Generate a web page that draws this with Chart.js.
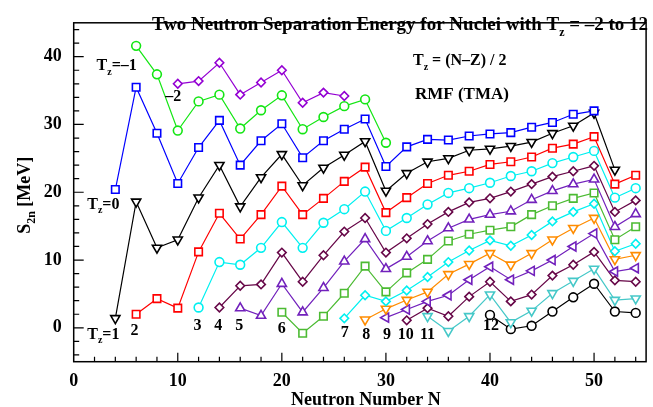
<!DOCTYPE html>
<html>
<head>
<meta charset="utf-8">
<script src="https://cdn.jsdelivr.net/npm/chart.js@4.4.1/dist/chart.umd.min.js"></script>
<style>
  html, body { margin: 0; padding: 0; background: #fff; }
  #wrap { width: 653px; height: 407px; }
</style>
</head>
<body>
<div id="wrap"><canvas id="s2n" width="653" height="407"></canvas></div>
<script>
// isospin projection of each chain and the neutron number where it starts (N goes up by 2)
const tzList = [-2, -1, 0, 1, 2, 3, 4, 5, 6, 7, 8, 9, 10, 11, 12];
const firstN = [10, 6, 4, 4, 6, 12, 14, 16, 20, 26, 28, 30, 32, 34, 40];

// S2n [MeV]
const s2nTzM2 = [36.0, 36.4, 39.1, 34.4, 36.2, 38.0, 33.2, 34.7, 34.2];
const s2nTzM1 = [41.6, 37.4, 29.1, 33.4, 34.4, 29.4, 32.1, 34.3, 29.3, 31.1, 32.7, 33.7, 27.3];
const s2nTz0 = [20.4, 35.5, 28.7, 21.3, 26.6, 30.6, 24.0, 27.6, 30.1, 25.1, 27.6, 29.3, 30.8, 23.8,
                26.7, 27.8, 27.7, 28.3, 28.6, 28.8, 29.6, 30.3, 31.5, 32.0];
const s2nTz1 = [1.4, 18.6, 11.8, 13.0, 19.2, 24.0, 17.9, 22.2, 25.6, 21.0, 23.6, 25.5, 27.5, 20.2,
                22.8, 24.5, 25.0, 26.2, 26.4, 26.8, 27.4, 28.7, 29.8, 31.7, 23.3];
const s2nTz2 = [2.0, 4.3, 2.9, 11.2, 16.9, 13.1, 16.7, 20.9, 16.7, 19.1, 21.6, 23.7, 17.0, 19.2,
                21.3, 22.5, 23.1, 24.1, 24.5, 25.2, 26.5, 27.1, 28.2, 21.2, 22.5];
const s2nTz3 = [3.0, 9.7, 9.3, 11.8, 15.6, 11.8, 15.5, 17.5, 20.1, 14.3, 16.2, 18.2, 19.9, 20.6,
                21.4, 22.4, 23.1, 24.3, 25.2, 26.1, 19.2, 20.6];
const s2nTz4 = [3.0, 6.2, 6.4, 11.1, 6.8, 10.7, 14.2, 16.2, 11.1, 13.2, 15.3, 17.1, 18.5, 19.1,
                20.1, 21.2, 22.3, 23.1, 23.9, 17.1, 18.8];
const s2nTz5 = [2.9, 1.8, 6.5, 2.3, 5.9, 9.8, 13.1, 8.7, 10.5, 12.8, 14.7, 16.0, 16.7, 17.2,
                18.9, 20.2, 21.2, 21.9, 14.9, 16.8];
const s2nTz6 = [2.3, -0.8, 1.7, 5.1, 9.1, 5.3, 8.1, 10.1, 12.8, 13.8, 14.4, 14.9, 16.7, 18.0,
                19.1, 19.9, 13.0, 14.9];
const s2nTz7 = [1.4, 4.8, 3.9, 5.5, 7.5, 9.7, 11.4, 12.9, 12.1, 13.7, 15.7, 17.1, 18.3, 11.3, 12.4];
const s2nTz8 = [1.2, 2.8, 4.1, 5.3, 7.9, 9.4, 11.0, 9.3, 11.0, 13.0, 14.7, 16.2, 10.1, 10.7];
const s2nTz9 = [1.5, 2.7, 3.9, 4.8, 7.1, 9.0, 7.1, 8.4, 10.0, 12.0, 13.9, 8.3, 8.8];
const s2nTz10 = [1.1, 2.9, 1.7, 4.6, 6.8, 3.9, 4.9, 7.7, 9.3, 11.2, 7.0, 6.8];
const s2nTz11 = [1.7, -0.5, 1.7, 4.9, 0.8, 2.5, 5.1, 6.9, 8.7, 4.1, 4.3];
const s2nTz12 = [1.9, -0.2, 0.3, 2.4, 4.5, 6.5, 2.4, 2.2];

const chains = [s2nTzM2, s2nTzM1, s2nTz0, s2nTz1, s2nTz2, s2nTz3, s2nTz4, s2nTz5,
                s2nTz6, s2nTz7, s2nTz8, s2nTz9, s2nTz10, s2nTz11, s2nTz12];

const xTicks = [0, 10, 20, 30, 40, 50];
const yTicks = [0, 10, 20, 30, 40];

// text put next to the chains, in data units
const notes = [
    {text: 'T_{z}=–1', n: 2.2, s: 38.0, align: 'left'},
    {text: '–2', n: 8.8, s: 33.4, align: 'left'},
    {text: 'T_{z}=0', n: 1.3, s: 17.6, align: 'left'},
    {text: 'T_{z}=1', n: 1.3, s: -1.6, align: 'left'},
    {text: '2', n: 5.85, s: -1.05, align: 'center'},
    {text: '3', n: 11.9, s: -0.35, align: 'center'},
    {text: '4', n: 13.9, s: -0.35, align: 'center'},
    {text: '5', n: 15.9, s: -0.35, align: 'center'},
    {text: '6', n: 20.0, s: -0.8, align: 'center'},
    {text: '7', n: 26.05, s: -1.4, align: 'center'},
    {text: '8', n: 28.1, s: -1.7, align: 'center'},
    {text: '9', n: 30.1, s: -1.7, align: 'center'},
    {text: '10', n: 31.9, s: -1.65, align: 'center'},
    {text: '11', n: 34.0, s: -1.65, align: 'center'},
    {text: '12', n: 40.1, s: -0.25, align: 'center'}
];

const serif = '"Liberation Serif", "DejaVu Serif", serif';

const styles = [
    {color: '#9400d3', shape: 'rectRot', r: 4.3, rot: 0},
    {color: '#14e614', shape: 'circle', r: 4.4, rot: 0},
    {color: '#0000ff', shape: 'rect', r: 5.3, rot: 0},
    {color: '#000000', shape: 'triangle', r: 5.3, rot: 180},
    {color: '#ff0000', shape: 'rect', r: 5.3, rot: 0},
    {color: '#00f0f0', shape: 'circle', r: 4.4, rot: 0},
    {color: '#670748', shape: 'rectRot', r: 4.3, rot: 0},
    {color: '#7221bc', shape: 'triangle', r: 5.3, rot: 0},
    {color: '#4cbb33', shape: 'rect', r: 5.3, rot: 0},
    {color: '#00f0f0', shape: 'rectRot', r: 4.3, rot: 0},
    {color: '#ff8c00', shape: 'triangle', r: 5.3, rot: 180},
    {color: '#7221bc', shape: 'triangle', r: 5.3, rot: 270},
    {color: '#670748', shape: 'rectRot', r: 4.3, rot: 0},
    {color: '#45c8c8', shape: 'triangle', r: 5.3, rot: 180},
    {color: '#000000', shape: 'circle', r: 4.4, rot: 0}
];

// draws "T_{z}=0" style strings with subscripts
function drawRich(ctx, str, x, y, size, align) {
    var parts = [];
    str.split(/(_\{[^}]*\})/).forEach(function (p) {
        if (!p) return;
        if (p.indexOf('_{') === 0) parts.push({t: p.slice(2, -1), sub: true});
        else parts.push({t: p, sub: false});
    });
    var main = 'bold ' + size + 'px ' + serif;
    var small = 'bold ' + Math.round(size * 0.64) + 'px ' + serif;
    var w = 0;
    parts.forEach(function (p) {
        ctx.font = p.sub ? small : main;
        w += ctx.measureText(p.t).width;
    });
    var cx = align === 'center' ? x - w / 2 : (align === 'right' ? x - w : x);
    parts.forEach(function (p) {
        ctx.font = p.sub ? small : main;
        ctx.fillText(p.t, cx, p.sub ? y + size * 0.3 : y);
        cx += ctx.measureText(p.t).width;
    });
}

const framePlugin = {
    id: 'frame',
    afterDatasetsDraw(chart) {
        var ctx = chart.ctx, a = chart.chartArea, x = chart.scales.x, y = chart.scales.y;
        ctx.save();
        ctx.fillStyle = '#000';
        ctx.textAlign = 'left';
        ctx.textBaseline = 'alphabetic';
        notes.forEach(function (nt) {
            drawRich(ctx, nt.text, x.getPixelForValue(nt.n), y.getPixelForValue(nt.s), 16, nt.align);
        });

        // frame and inward ticks
        ctx.strokeStyle = '#000';
        ctx.lineWidth = 1.5;
        ctx.strokeRect(a.left, a.top, a.right - a.left, a.bottom - a.top);
        ctx.lineWidth = 1.2;
        ctx.beginPath();
        for (var n = 2; n <= 54; n += 2) {
            var px = x.getPixelForValue(n);
            ctx.moveTo(px, a.bottom);
            ctx.lineTo(px, a.bottom - (n % 10 === 0 ? 9 : 5));
        }
        for (var s = -4; s <= 44; s += 2) {
            var py = y.getPixelForValue(s);
            ctx.moveTo(a.left, py);
            ctx.lineTo(a.left + (s % 10 === 0 ? 10 : 5.5), py);
        }
        ctx.stroke();

        // title and captions
        drawRich(ctx, 'Two Neutron Separation Energy for Nuclei with T_{z} = –2 to 12', 400, 30, 19, 'center');
        drawRich(ctx, 'T_{z} = (N–Z) / 2', 413, 65, 16, 'left');
        drawRich(ctx, 'RMF (TMA)', 415, 99, 17, 'left');
        drawRich(ctx, 'Neutron Number N', (a.left + a.right) / 2 + 6, 405, 18, 'center');

        ctx.translate(30, (a.top + a.bottom) / 2 + 3);
        ctx.rotate(-Math.PI / 2);
        drawRich(ctx, 'S_{2n} [MeV]', 0, 0, 18, 'center');
        ctx.restore();
    }
};

const datasets = chains.map(function (vals, i) {
    var st = styles[i];
    return {
        label: 'Tz=' + tzList[i],
        data: vals.map(function (v, j) { return {x: firstN[i] + 2 * j, y: v}; }),
        borderColor: st.color,
        backgroundColor: '#fff',
        pointBackgroundColor: '#fff',
        pointBorderColor: st.color,
        pointStyle: st.shape,
        pointRadius: st.r,
        pointRotation: st.rot,
        pointBorderWidth: 1.6,
        borderWidth: 1.2,
        tension: 0,
        fill: false
    };
});

const tickFont = {family: serif, size: 18, weight: 'bold'};

new Chart(document.getElementById('s2n'), {
    type: 'line',
    data: {datasets: datasets},
    options: {
        responsive: false,
        animation: false,
        devicePixelRatio: 1,
        layout: {padding: {left: 0, top: 11, right: 2, bottom: 0}},
        plugins: {legend: {display: false}, tooltip: {enabled: false}},
        scales: {
            x: {
                type: 'linear', min: 0, max: 55,
                grid: {display: false, drawTicks: false},
                border: {display: false},
                afterBuildTicks: function (sc) { sc.ticks = xTicks.map(function (v) { return {value: v}; }); },
                afterFit: function (sc) { sc.height = 45.3; },
                ticks: {color: '#000', font: tickFont, padding: 9, maxRotation: 0, autoSkip: false}
            },
            y: {
                type: 'linear', min: -5, max: 45,
                grid: {display: false, drawTicks: false},
                border: {display: false},
                afterBuildTicks: function (sc) { sc.ticks = yTicks.map(function (v) { return {value: v}; }); },
                afterFit: function (sc) { sc.width = 73.7; },
                ticks: {color: '#000', font: tickFont, padding: 12, autoSkip: false}
            }
        }
    },
    plugins: [framePlugin]
});
</script>
</body>
</html>
